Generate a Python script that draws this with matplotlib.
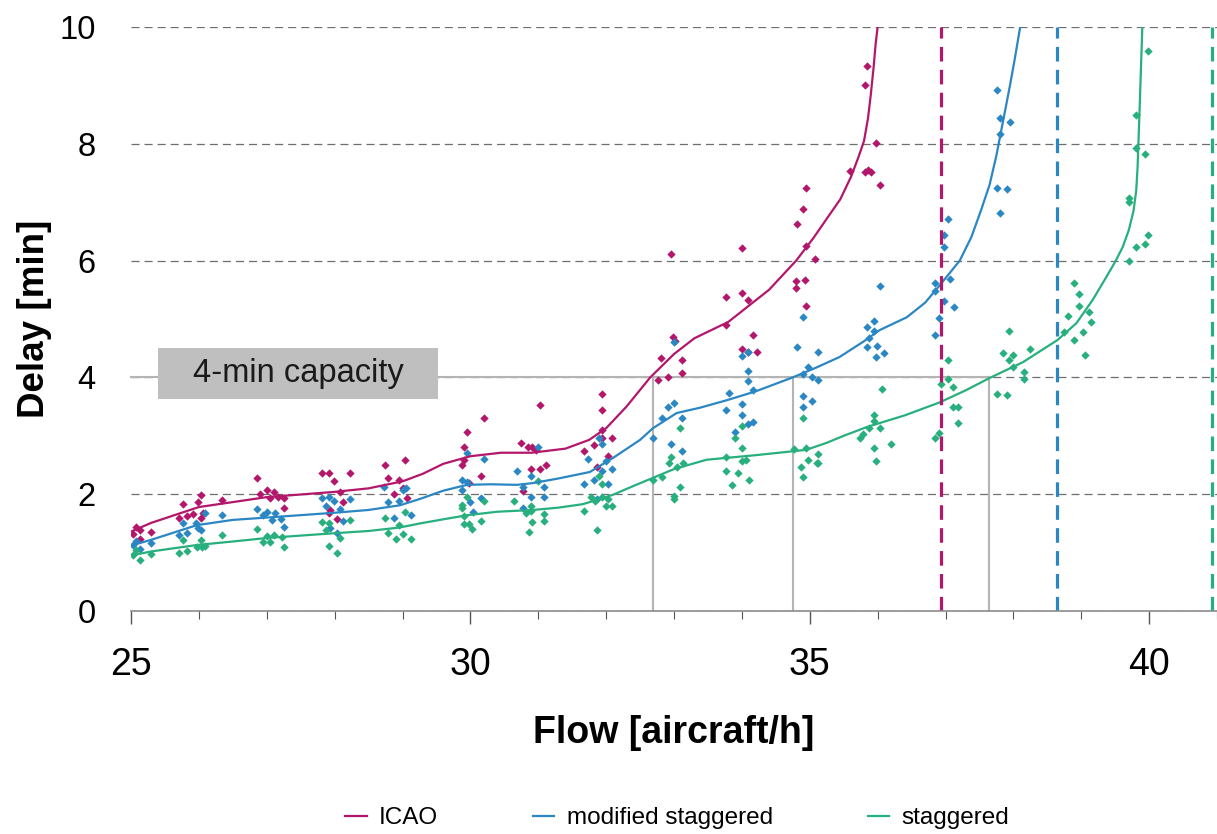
import numpy as np
import matplotlib.pyplot as plt
from matplotlib.patches import Rectangle
from matplotlib.lines import Line2D

plt.rcParams["font.family"] = ["Liberation Sans", "DejaVu Sans"]
plt.rcParams["lines.scale_dashes"] = False

# --- series labels and colours ---
SERIES = ["ICAO", "modified staggered", "staggered"]
COLORS = ["#B3176B", "#2A87C3", "#27AF7D"]

# --- fitted delay curves (flow, delay) ---
icao_curve_x = [25.0, 25.3, 26.0, 27.0, 28.0, 28.5, 29.0, 29.3, 29.6, 30.0, 30.45, 30.9,
                31.4, 31.75, 32.0, 32.3, 32.65, 33.0, 33.3, 33.8, 34.4, 34.8, 35.05, 35.3,
                35.45, 35.61, 35.72, 35.8, 35.86, 35.9, 35.94, 35.97, 36.0]
icao_curve_y = [1.36, 1.51, 1.78, 1.95, 2.04, 2.10, 2.22, 2.35, 2.52, 2.65, 2.71, 2.71,
                2.78, 2.93, 3.13, 3.50, 4.0, 4.40, 4.67, 4.95, 5.50, 6.00, 6.38, 6.80,
                7.05, 7.44, 7.78, 8.05, 8.45, 8.85, 9.3, 9.7, 10.0]

mod_curve_x = [25.0, 25.3, 25.97, 26.5, 27.0, 27.97, 28.5, 28.96, 29.26, 29.6, 29.95, 30.3,
               30.68, 30.92, 31.3, 31.76, 32.1, 32.5, 32.69, 33.04, 33.38, 33.78, 34.2,
               34.75, 35.1, 35.44, 35.8, 36.03, 36.43, 36.7, 36.91, 37.21, 37.38, 37.52,
               37.65, 37.75, 37.85, 37.95, 38.02, 38.1]
mod_curve_y = [1.12, 1.22, 1.47, 1.56, 1.60, 1.68, 1.73, 1.81, 1.92, 2.06, 2.16, 2.17,
               2.16, 2.19, 2.27, 2.38, 2.62, 2.93, 3.13, 3.39, 3.48, 3.61, 3.76,
               4.0, 4.17, 4.35, 4.62, 4.81, 5.03, 5.28, 5.57, 6.0, 6.4, 6.85,
               7.3, 7.8, 8.4, 9.0, 9.45, 10.0]

stag_curve_x = [25.0, 25.3, 25.97, 26.5, 27.0, 27.97, 28.5, 28.96, 29.26, 29.6, 29.95, 30.4,
                30.92, 31.3, 31.66, 32.1, 32.4, 32.69, 33.0, 33.48, 34.22, 34.95, 35.25,
                35.5, 35.84, 36.4, 36.91, 37.3, 37.65, 38.14, 38.65, 38.93, 39.17, 39.37,
                39.5, 39.61, 39.7, 39.77, 39.81, 39.83, 39.86, 39.88, 39.9]
stag_curve_y = [0.95, 1.02, 1.13, 1.19, 1.25, 1.33, 1.37, 1.43, 1.50, 1.57, 1.64, 1.70,
                1.73, 1.77, 1.83, 1.99, 2.14, 2.28, 2.43, 2.59, 2.67, 2.76, 2.88,
                3.0, 3.15, 3.35, 3.57, 3.78, 3.99, 4.26, 4.64, 4.93, 5.33, 5.72,
                5.98, 6.23, 6.52, 6.85, 7.2, 7.6, 8.6, 9.3, 10.0]

# --- simulation runs (flow, delay) ---
icao_x = [25.03, 25.08, 25.13, 25.13, 25.30, 25.70, 25.77, 25.82, 25.91, 25.99, 26.03, 26.03,
          26.06, 26.34, 26.85, 26.90, 27.00, 27.05, 27.11, 27.17, 27.26, 27.25, 27.82, 27.92,
          27.99, 28.08, 27.93, 27.91, 28.03, 28.13, 28.22, 28.74, 28.78, 28.87, 28.95, 29.00,
          29.03, 29.07, 29.87, 29.90, 29.95, 29.90, 30.16, 30.20, 29.98, 30.74, 30.85, 30.91,
          30.96, 31.02, 30.90, 31.02, 31.12, 30.78, 31.68, 31.82, 31.94, 31.94, 31.94, 31.94,
          32.08, 32.03, 31.86, 32.95, 32.99, 33.02, 32.81, 33.12, 33.12, 32.77, 32.91, 33.77,
          34.00, 34.09, 34.00, 33.77, 34.16, 34.00, 34.09, 34.22, 34.81, 34.94, 35.07, 34.80,
          34.80, 34.93, 34.95, 34.95, 34.90, 35.85, 35.81, 35.98, 35.59, 35.81, 35.86, 35.90,
          36.03]
icao_y = [1.32, 1.43, 1.39, 1.24, 1.35, 1.60, 1.83, 1.63, 1.66, 1.87, 1.99, 1.60,
          1.67, 1.90, 2.28, 2.00, 2.08, 1.93, 2.03, 1.96, 1.93, 1.76, 2.37, 2.36,
          2.23, 2.03, 1.73, 1.67, 1.57, 1.87, 2.37, 2.50, 2.28, 2.01, 2.24, 2.10,
          2.59, 1.94, 2.50, 2.81, 3.07, 2.59, 2.31, 3.30, 2.19, 2.87, 2.80, 2.80,
          2.76, 3.52, 2.44, 2.44, 2.50, 2.06, 2.74, 2.85, 3.71, 3.44, 3.10, 2.96,
          2.97, 2.65, 2.46, 6.12, 4.70, 4.63, 4.34, 4.30, 4.07, 3.96, 4.00, 5.37,
          5.45, 5.33, 6.22, 4.89, 4.73, 4.48, 4.43, 4.43, 6.63, 6.25, 6.02, 5.65,
          5.53, 5.66, 5.23, 7.25, 6.88, 9.34, 9.01, 8.02, 7.54, 7.51, 7.55, 7.51,
          7.29]

mod_x = [25.03, 25.08, 25.13, 25.30, 25.70, 25.77, 25.82, 25.96, 25.99, 26.03, 26.09, 26.34,
         26.85, 26.95, 27.00, 27.07, 27.12, 27.21, 27.25, 27.82, 27.87, 27.92, 27.99, 28.08,
         27.93, 28.03, 28.13, 28.22, 28.73, 28.78, 28.87, 28.95, 29.01, 29.05, 29.12, 29.87,
         29.87, 29.95, 29.95, 29.99, 30.04, 30.16, 30.20, 30.69, 30.78, 30.78, 30.90, 30.90,
         30.99, 31.09, 31.09, 31.68, 31.74, 31.82, 31.90, 31.94, 31.94, 32.00, 32.03, 32.08,
         31.86, 32.69, 32.82, 32.91, 33.00, 33.12, 32.95, 33.12, 33.00, 33.81, 33.77, 34.00,
         34.00, 33.90, 34.16, 34.09, 34.16, 34.09, 34.09, 34.00, 34.09, 34.90, 34.81, 35.12,
         34.90, 34.98, 35.03, 35.12, 34.90, 34.90, 35.03, 36.03, 35.85, 35.94, 35.94, 35.88,
         35.85, 35.99, 35.98, 36.10, 36.85, 36.85, 36.85, 37.06, 36.98, 37.13, 36.90, 37.03,
         36.98, 36.98, 37.76, 37.80, 37.95, 37.80, 37.76, 37.90, 37.80]
mod_y = [1.13, 1.20, 1.07, 1.17, 1.30, 1.51, 1.33, 1.51, 1.42, 1.39, 1.67, 1.64,
         1.74, 1.64, 1.70, 1.56, 1.67, 1.57, 1.43, 1.94, 1.80, 1.96, 1.89, 1.74,
         1.42, 1.33, 1.54, 1.91, 2.12, 1.86, 1.59, 1.89, 2.07, 2.10, 1.64, 2.24,
         2.07, 2.71, 2.21, 1.86, 1.70, 1.94, 2.60, 2.39, 2.12, 1.76, 2.31, 1.95,
         2.81, 2.12, 1.95, 2.17, 2.60, 2.24, 2.97, 2.86, 2.39, 2.57, 2.17, 2.44,
         1.91, 2.97, 3.31, 3.49, 3.56, 3.31, 2.86, 2.74, 4.60, 3.74, 3.44, 3.54,
         3.35, 3.07, 3.24, 3.21, 3.78, 3.94, 4.11, 4.37, 4.43, 5.04, 4.52, 4.43,
         4.06, 4.17, 4.01, 3.95, 3.68, 3.50, 3.60, 5.57, 4.87, 4.97, 4.80, 4.67,
         4.52, 4.54, 4.35, 4.42, 5.62, 5.48, 4.73, 5.68, 5.30, 5.21, 5.01, 6.71,
         6.43, 6.24, 8.92, 8.45, 8.38, 8.17, 7.25, 7.22, 6.81]

stag_x = [25.03, 25.08, 25.13, 25.30, 25.70, 25.77, 25.82, 25.97, 26.03, 26.04, 26.09, 26.34,
          26.85, 26.95, 27.00, 27.05, 27.10, 27.22, 27.26, 27.82, 27.87, 27.92, 27.92, 28.03,
          28.08, 28.22, 28.74, 28.78, 28.91, 28.95, 29.00, 29.03, 29.12, 29.87, 29.87, 29.90,
          29.90, 29.95, 29.98, 30.03, 30.16, 30.20, 30.65, 30.82, 30.87, 30.90, 30.90, 30.91,
          30.99, 31.09, 31.09, 31.68, 31.78, 31.86, 31.90, 31.94, 31.94, 32.00, 32.03, 32.08,
          31.83, 32.69, 32.82, 32.92, 32.96, 33.00, 33.00, 33.04, 33.09, 33.09, 33.13, 33.77,
          33.77, 33.85, 33.95, 34.00, 34.06, 34.10, 34.00, 33.90, 34.00, 34.77, 34.87, 34.90,
          34.90, 34.95, 34.98, 35.10, 35.12, 35.12, 35.74, 35.78, 35.88, 35.94, 35.94, 36.03,
          35.94, 35.98, 36.19, 36.06, 36.85, 36.90, 36.93, 37.03, 37.03, 37.11, 37.11, 37.19,
          37.19, 37.94, 37.85, 37.99, 37.94, 38.24, 37.99, 38.15, 38.15, 37.76, 37.90, 38.80,
          38.97, 39.11, 39.15, 39.03, 38.89, 39.06, 38.75, 38.89, 38.97, 39.98, 39.80, 39.80,
          39.94, 39.71, 39.71, 39.98, 39.80, 39.94, 39.71]
stag_y = [0.96, 1.05, 0.88, 0.97, 1.00, 1.22, 1.02, 1.10, 1.21, 1.10, 1.11, 1.30,
          1.40, 1.19, 1.28, 1.18, 1.30, 1.26, 1.09, 1.52, 1.39, 1.51, 1.11, 1.00,
          1.25, 1.55, 1.60, 1.33, 1.23, 1.48, 1.32, 1.69, 1.23, 1.81, 1.77, 1.63,
          1.49, 1.96, 1.49, 1.40, 1.54, 1.88, 1.88, 1.68, 1.35, 1.80, 1.72, 1.53,
          2.22, 1.66, 1.54, 1.72, 1.95, 1.39, 2.32, 2.17, 1.95, 1.79, 1.92, 1.79,
          1.88, 2.25, 2.30, 2.54, 2.64, 1.97, 1.91, 2.46, 3.13, 2.13, 2.53, 2.64,
          2.40, 2.15, 2.37, 2.56, 2.59, 2.24, 2.79, 2.97, 3.17, 2.78, 2.47, 2.30,
          3.31, 2.79, 2.59, 2.53, 2.54, 2.68, 2.97, 3.03, 3.14, 3.36, 3.25, 3.14,
          2.79, 2.57, 2.86, 3.80, 2.97, 3.05, 3.88, 4.30, 3.97, 3.84, 3.49, 3.49,
          3.22, 4.80, 4.41, 4.39, 4.29, 4.48, 4.18, 4.10, 3.97, 3.72, 3.70, 5.05,
          5.22, 5.12, 4.95, 4.78, 4.64, 4.39, 4.77, 5.61, 5.43, 9.59, 8.49, 7.93,
          7.83, 7.08, 7.00, 6.43, 6.23, 6.29, 5.99]

# capacity limits (flow at which delay diverges) per procedure
max_capacity = [36.93, 38.65, 40.92]

# flow at which each curve reaches the 4-minute delay threshold
delay_threshold = 4.0
capacity_4min = [32.69, 34.76, 37.64]


fig = plt.figure(figsize=(12.17, 8.34), dpi=100)
ax = fig.add_axes([131 / 1217, 1 - 611 / 834, 1 - 131 / 1217, 584 / 834])

ax.set_xlim(25, 41)
ax.set_ylim(0, 10)

# horizontal dashed grid
ax.set_yticks([0, 2, 4, 6, 8, 10])
ax.yaxis.grid(True, color="#6E6E6E", linestyle=(0, (5.8, 3.6)), linewidth=0.9, zorder=0)
ax.set_axisbelow(True)

# 4-min capacity markers
ax.plot([25, capacity_4min[-1]], [delay_threshold, delay_threshold],
        color="#B4B4B4", lw=1.5, zorder=1, clip_on=False)
for cx in capacity_4min:
    ax.plot([cx, cx], [0, delay_threshold], color="#B4B4B4", lw=1.5, zorder=1)

curves = [(icao_curve_x, icao_curve_y), (mod_curve_x, mod_curve_y), (stag_curve_x, stag_curve_y)]
points = [(icao_x, icao_y), (mod_x, mod_y), (stag_x, stag_y)]

for (cx, cy), (px, py), col in zip(curves, points, COLORS):
    ax.scatter(px, py, marker="D", s=18, color=col, linewidths=0, zorder=3)
    ax.plot(cx, cy, color=col, lw=1.6, zorder=4, solid_joinstyle="round")

for xc, col in zip(max_capacity, COLORS):
    ax.axvline(xc, color=col, lw=2.3, linestyle=(0, (10.5, 6.0)), zorder=5)

# label box
ax.add_patch(Rectangle((25.40, 3.63), 4.12, 0.87, facecolor="#BFBFBF",
                       edgecolor="none", zorder=6))
ax.text(27.46, 4.07, "4-min capacity", fontsize=23.5, ha="center", va="center",
        color="#1A1A1A", zorder=7)

# axes styling
for side in ["left", "top", "right"]:
    ax.spines[side].set_visible(False)
ax.spines["bottom"].set_color("#8C8C8C")
ax.spines["bottom"].set_linewidth(1.2)
ax.spines["bottom"].set_zorder(8)

ax.set_xticks([25, 30, 35, 40])
ax.set_xticks(np.arange(25, 42, 1), minor=True)
ax.tick_params(axis="x", which="major", length=9, width=1.0, color="#555555",
               labelsize=27, pad=17)
ax.tick_params(axis="x", which="minor", length=6, width=0.8, color="#555555")
ax.tick_params(axis="y", length=0, labelsize=23.5, pad=25.5)

ax.set_xlabel("Flow [aircraft/h]", fontsize=27, fontweight="bold")
ax.set_ylabel("Delay [min]", fontsize=26.5, fontweight="bold")
ax.xaxis.set_label_coords(0.5, -0.178)
ax.yaxis.set_label_coords(-0.073, 0.5)

handles = [Line2D([], [], color=c, lw=1.6) for c in COLORS]
fig.legend(handles, SERIES, loc="center", bbox_to_anchor=(677 / 1217, 16 / 834),
           ncol=3, frameon=False, fontsize=17.5, handlelength=0.9, handletextpad=0.5,
           columnspacing=3.9)

fig.savefig("out.png", dpi=100)
